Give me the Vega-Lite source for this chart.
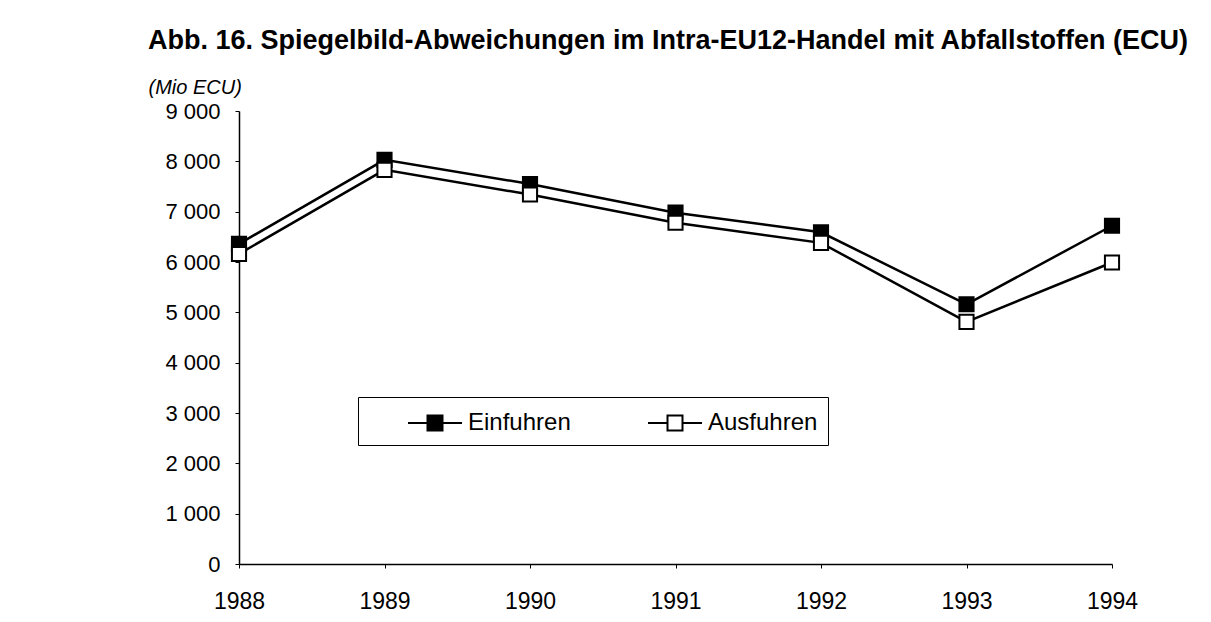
{
  "$schema": "https://vega.github.io/schema/vega-lite/v6.json",
  "autosize": {"type": "none"},
  "width": 873,
  "height": 453,
  "padding": {"left": 239, "top": 111, "right": 99, "bottom": 58},
  "background": "white",
  "config": {
    "font": "Liberation Sans",
    "view": {"stroke": null},
    "axis": {"domainColor": "black", "tickColor": "black", "labelColor": "black", "grid": false, "domainWidth": 1.5, "tickWidth": 1}
  },
  "title": {
    "text": "Abb. 16. Spiegelbild-Abweichungen im Intra-EU12-Handel mit Abfallstoffen (ECU)",
    "anchor": "start",
    "frame": "group",
    "dx": -91,
    "offset": 22,
    "fontSize": 27,
    "fontWeight": "bold",
    "font": "Liberation Sans",
    "color": "black"
  },
  "data": {
    "values": [
      {"year": 1988, "series": "Einfuhren", "value": 6360},
      {"year": 1989, "series": "Einfuhren", "value": 8030},
      {"year": 1990, "series": "Einfuhren", "value": 7550},
      {"year": 1991, "series": "Einfuhren", "value": 6980},
      {"year": 1992, "series": "Einfuhren", "value": 6590},
      {"year": 1993, "series": "Einfuhren", "value": 5160},
      {"year": 1994, "series": "Einfuhren", "value": 6720},
      {"year": 1988, "series": "Ausfuhren", "value": 6160},
      {"year": 1989, "series": "Ausfuhren", "value": 7830},
      {"year": 1990, "series": "Ausfuhren", "value": 7340},
      {"year": 1991, "series": "Ausfuhren", "value": 6780},
      {"year": 1992, "series": "Ausfuhren", "value": 6380},
      {"year": 1993, "series": "Ausfuhren", "value": 4810},
      {"year": 1994, "series": "Ausfuhren", "value": 5990}
    ]
  },
  "encoding": {
    "x": {
      "field": "year", "type": "quantitative",
      "scale": {"domain": [1988, 1994], "nice": false, "zero": false},
      "axis": {"title": null, "values": [1988, 1989, 1990, 1991, 1992, 1993, 1994], "format": "d", "labelFontSize": 23, "tickSize": 4, "labelPadding": 22, "labelFlush": false}
    },
    "y": {
      "field": "value", "type": "quantitative",
      "scale": {"domain": [0, 9000], "nice": false},
      "axis": {
        "title": "(Mio ECU)", "titleAngle": 0, "titleAlign": "left", "titleX": -91, "titleY": -24,
        "titleFontStyle": "italic", "titleFontWeight": "normal", "titleFontSize": 20, "titleBaseline": "middle",
        "values": [0, 1000, 2000, 3000, 4000, 5000, 6000, 7000, 8000, 9000],
        "labelExpr": "replace(format(datum.value, ',d'), ',', ' ')",
        "labelFontSize": 22, "tickSize": 4, "labelPadding": 15
      }
    }
  },
  "layer": [
    {
      "mark": {"type": "line", "color": "black", "strokeWidth": 2.5},
      "encoding": {"detail": {"field": "series"}}
    },
    {
      "mark": {"type": "point", "shape": "square", "size": 200, "stroke": "black", "strokeWidth": 2, "opacity": 1, "filled": false},
      "encoding": {
        "fill": {
          "field": "series", "type": "nominal",
          "scale": {"domain": ["Einfuhren", "Ausfuhren"], "range": ["black", "white"]},
          "legend": {
            "title": null, "orient": "none", "direction": "horizontal",
            "legendX": 119, "legendY": 286,
            "strokeColor": "black", "fillColor": "white", "padding": 10,
            "symbolType": "M-1.8,0L-0.5,0M0.5,0L1.8,0M-0.5,-0.5L0.5,-0.5L0.5,0.5L-0.5,0.5Z",
            "symbolSize": 900, "symbolStrokeColor": "black", "symbolStrokeWidth": 2,
            "symbolOffset": 51,
            "labelFontSize": 24, "labelColor": "black", "labelOffset": 17,
            "columnPadding": 37
          }
        }
      }
    }
  ]
}
